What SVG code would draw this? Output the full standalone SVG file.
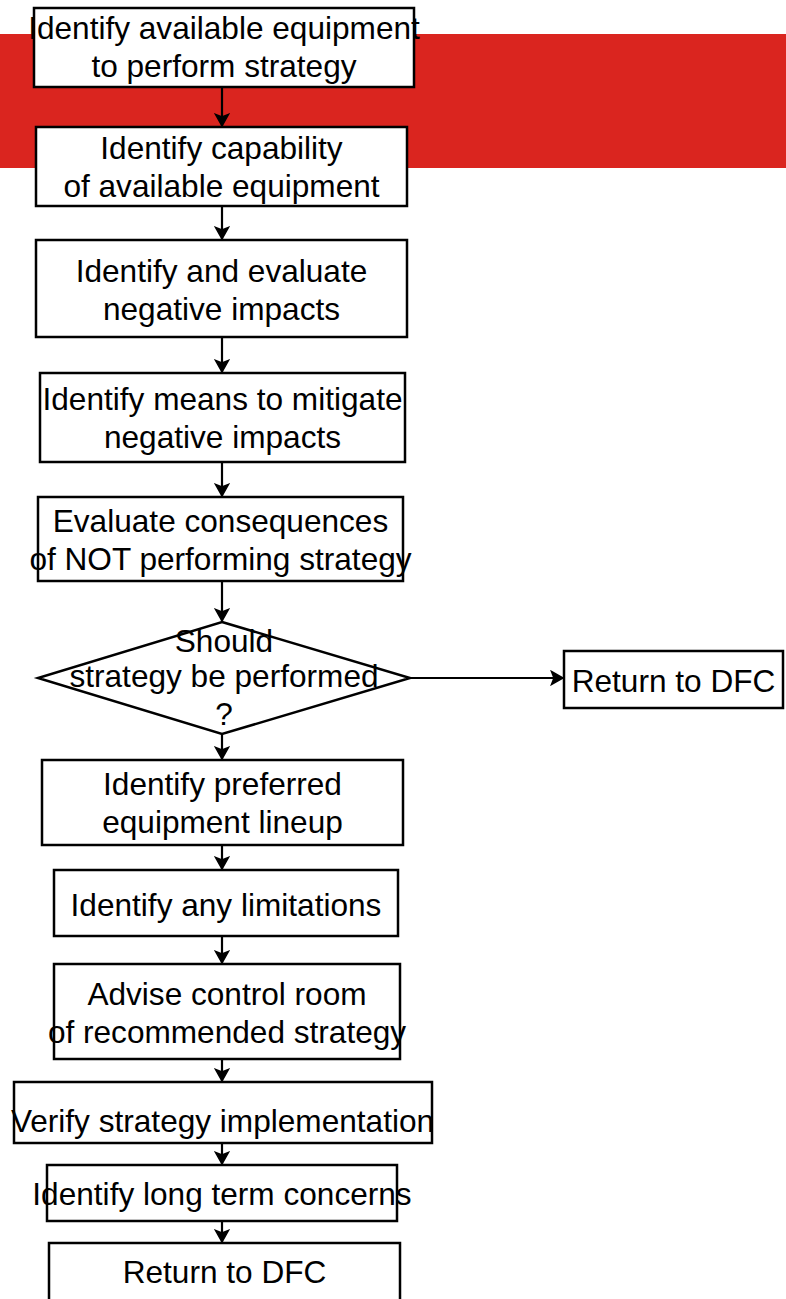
<svg xmlns="http://www.w3.org/2000/svg" width="786" height="1299" viewBox="0 0 786 1299">
<style>
.box{fill:#fff;stroke:#000;stroke-width:2.5}
.t{font-family:"Liberation Sans",Arial,sans-serif;font-size:31.6px;fill:#000;text-anchor:middle}
.c{stroke:#000;stroke-width:2.2;fill:none}
</style>
<defs>
<marker id="ah" markerUnits="userSpaceOnUse" markerWidth="16" markerHeight="16" refX="14" refY="8" orient="auto" viewBox="0 0 16 16">
<path d="M2.5,1.5 L14,8 L2.5,14.5 L5,8 z" fill="#000" stroke="#000" stroke-width="1.5" stroke-linejoin="miter"/>
</marker>
</defs>
<rect x="0" y="34" width="786" height="134" fill="#DA251F"/>
<g id="connectors">
<line class="c" x1="222" y1="87" x2="222" y2="126" marker-end="url(#ah)"/>
<line class="c" x1="222" y1="206" x2="222" y2="239" marker-end="url(#ah)"/>
<line class="c" x1="222" y1="337" x2="222" y2="372" marker-end="url(#ah)"/>
<line class="c" x1="222" y1="462" x2="222" y2="496" marker-end="url(#ah)"/>
<line class="c" x1="222" y1="581" x2="222" y2="621" marker-end="url(#ah)"/>
<line class="c" x1="410" y1="678" x2="563" y2="678" marker-end="url(#ah)"/>
<line class="c" x1="222" y1="734" x2="222" y2="759" marker-end="url(#ah)"/>
<line class="c" x1="222" y1="845" x2="222" y2="869" marker-end="url(#ah)"/>
<line class="c" x1="222" y1="936" x2="222" y2="963" marker-end="url(#ah)"/>
<line class="c" x1="222" y1="1059" x2="222" y2="1081" marker-end="url(#ah)"/>
<line class="c" x1="222" y1="1143" x2="222" y2="1164" marker-end="url(#ah)"/>
<line class="c" x1="222" y1="1221" x2="222" y2="1242" marker-end="url(#ah)"/>
</g>
<g id="n1"><rect class="box" x="34" y="8" width="380" height="79"/>
<text class="t" x="224" y="39">Identify available equipment</text><text class="t" x="224" y="77">to perform strategy</text></g>
<g id="n2"><rect class="box" x="36" y="127" width="371" height="79"/>
<text class="t" x="221.5" y="159">Identify capability</text><text class="t" x="221.5" y="197">of available equipment</text></g>
<g id="n3"><rect class="box" x="36" y="240" width="371" height="97"/>
<text class="t" x="221.5" y="282">Identify and evaluate</text><text class="t" x="221.5" y="320">negative impacts</text></g>
<g id="n4"><rect class="box" x="40" y="373" width="365" height="89"/>
<text class="t" x="222.5" y="410">Identify means to mitigate</text><text class="t" x="222.5" y="448">negative impacts</text></g>
<g id="n5"><rect class="box" x="38" y="497" width="365" height="84"/>
<text class="t" x="220.5" y="532">Evaluate consequences</text><text class="t" x="220.5" y="570">of NOT performing strategy</text></g>
<g id="d1"><polygon class="box" points="222,622 410,678 222,734 38,678" style="fill:none"/>
<text class="t" x="224" y="652">Should</text><text class="t" x="224" y="687">strategy be performed</text><text class="t" x="224" y="725">?</text></g>
<g id="r1"><rect class="box" x="564" y="651" width="219" height="57"/>
<text class="t" x="673.5" y="692">Return to DFC</text></g>
<g id="n6"><rect class="box" x="42" y="760" width="361" height="85"/>
<text class="t" x="222.5" y="795">Identify preferred</text><text class="t" x="222.5" y="833">equipment lineup</text></g>
<g id="n7"><rect class="box" x="54" y="870" width="344" height="66"/>
<text class="t" x="226" y="916">Identify any limitations</text></g>
<g id="n8"><rect class="box" x="54" y="964" width="346" height="95"/>
<text class="t" x="227" y="1005">Advise control room</text><text class="t" x="227" y="1043">of recommended strategy</text></g>
<g id="n9"><rect class="box" x="14" y="1082" width="418" height="61"/>
<text class="t" x="222.5" y="1132">Verify strategy implementation</text></g>
<g id="n10"><rect class="box" x="47" y="1165" width="350" height="56"/>
<text class="t" x="222" y="1205">Identify long term concerns</text></g>
<g id="n11"><rect class="box" x="49" y="1243" width="351" height="70"/>
<text class="t" x="224.5" y="1283">Return to DFC</text></g>
</svg>
